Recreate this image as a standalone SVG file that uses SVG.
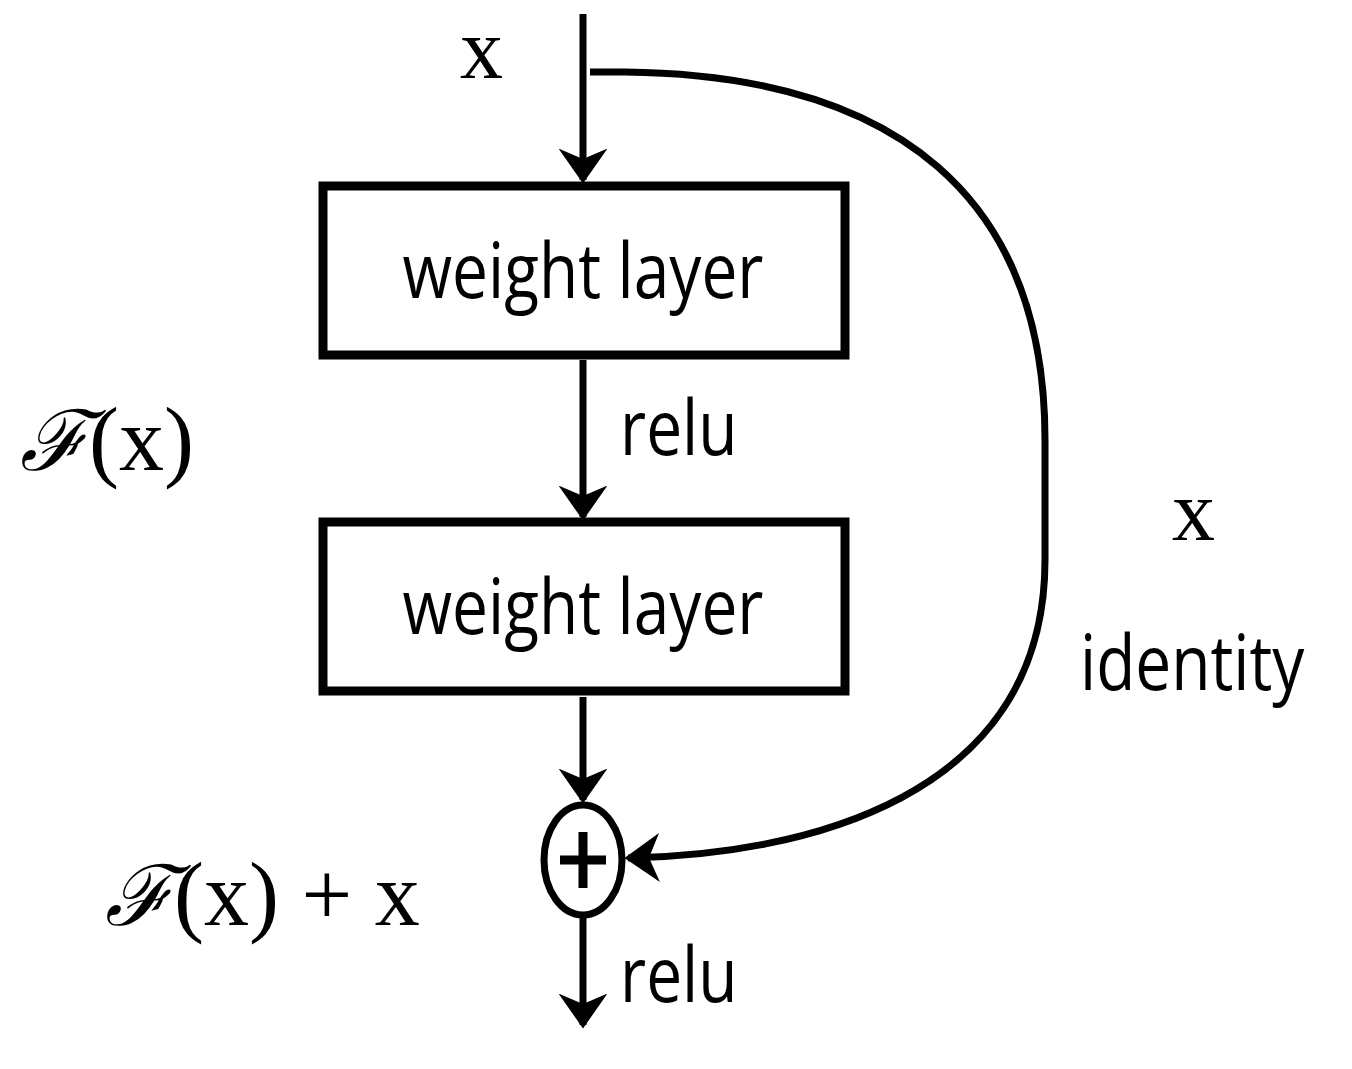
<svg xmlns="http://www.w3.org/2000/svg" width="1352" height="1069" viewBox="0 0 1352 1069">
<style>
.ln{stroke:#000;stroke-width:7;fill:none}
.box{stroke:#000;stroke-width:9;fill:#fff}
.sans{font-family:"Open Sans","Liberation Sans",sans-serif;font-size:64px;fill:#000}
.serif{font-family:"Liberation Serif",serif;font-size:86px;fill:#000}
.it{font-family:"Liberation Serif",serif;font-style:italic;font-size:84px;fill:#000}
</style>
<defs>
<marker id="ah" viewBox="0 0 10 14" refX="9" refY="7" markerWidth="5" markerHeight="7" markerUnits="strokeWidth" orient="auto"><path d="M0,0 L10,7 L0,14 L3,7 z" fill="#000"/></marker>
</defs>
<g id="connectors">
<path class="ln" d="M583,14 V180" marker-end="url(#ah)"/>
<path class="ln" d="M583,360 V517" marker-end="url(#ah)"/>
<path class="ln" d="M583,697 V800" marker-end="url(#ah)"/>
<path class="ln" d="M583,918 V1025" marker-end="url(#ah)"/>
<path class="ln" d="M590,72 H625 C900,75 1045,200 1045,440 V560 C1045,800 800,855 628,858" marker-end="url(#ah)"/>
</g>
<g id="box1"><rect class="box" x="323" y="186" width="522" height="169"/><text class="sans" transform="translate(583,298) scale(1,1.2)" text-anchor="middle">weight layer</text></g>
<g id="box2"><rect class="box" x="323" y="522" width="522" height="169"/><text class="sans" transform="translate(583,634) scale(1,1.2)" text-anchor="middle">weight layer</text></g>
<g id="sum"><ellipse cx="583" cy="860" rx="39" ry="55" fill="#fff" stroke="#000" stroke-width="7"/><path d="M583,832 V888 M560,860 H606" stroke="#000" stroke-width="9"/></g>
<g id="labels">
<text class="serif" x="460" y="78">x</text>
<text class="sans" transform="translate(620,455) scale(1,1.2)">relu</text>
<text class="sans" transform="translate(620,1002) scale(1,1.2)">relu</text>
<text class="it" x="20" y="470">ℱ<tspan class="serif" style="font-style:normal;font-size:90px">(x)</tspan></text>
<text class="serif" x="1172" y="540">x</text>
<text class="sans" transform="translate(1080,690) scale(1,1.2)">identity</text>
<text class="it" x="105" y="925">ℱ<tspan class="serif" style="font-style:normal;font-size:90px">(x) + x</tspan></text>
</g>
</svg>
